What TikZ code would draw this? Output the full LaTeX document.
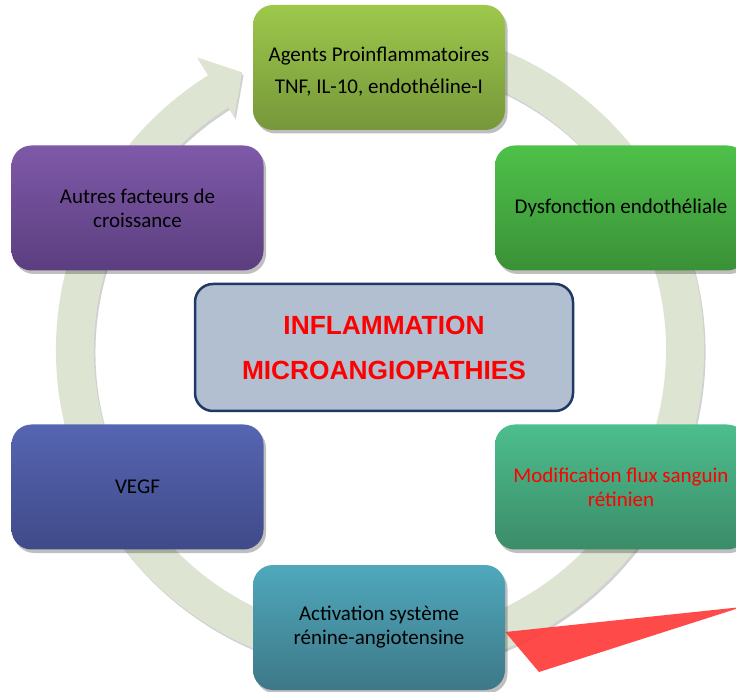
\documentclass[tikz,border=0pt]{standalone}
\usepackage{fontspec}
\setmainfont{Carlito}
\newfontfamily\arialfont{Liberation Sans}
\usetikzlibrary{shadows}
\definecolor{ringc}{HTML}{DDE5D2}
\definecolor{topA}{HTML}{9DC84B}\definecolor{topB}{HTML}{76973A}
\definecolor{dysA}{HTML}{4EC149}\definecolor{dysB}{HTML}{3A9137}
\definecolor{autA}{HTML}{7E59A8}\definecolor{autB}{HTML}{5B3E7F}
\definecolor{modA}{HTML}{4DBE8E}\definecolor{modB}{HTML}{3B8C68}
\definecolor{vegA}{HTML}{5665B2}\definecolor{vegB}{HTML}{3F4A88}
\definecolor{actA}{HTML}{4FA8BC}\definecolor{actB}{HTML}{3D7888}
\definecolor{centerfill}{HTML}{B1BFD1}
\definecolor{centerdraw}{HTML}{1F3864}
\definecolor{redtri}{HTML}{FF3B3B}
\begin{document}
\begin{tikzpicture}[x=1pt,y=1pt,
  softshadow/.style={drop shadow={shadow xshift=2.5pt, shadow yshift=-3.5pt, opacity=0.25, fill=black}},
  box/.style={rounded corners=20pt, minimum width=252pt, minimum height=125pt,
    align=center, font=\fontsize{21}{24}\selectfont, inner sep=4pt, text=black, softshadow},
  centerbox/.style={rounded corners=18pt, minimum width=378pt, minimum height=127pt,
    fill=centerfill, draw=centerdraw, line width=2.5pt, align=center, text=red,
    font=\arialfont\bfseries\fontsize{26.3}{45}\selectfont}
]
\clip (0,0) rectangle (736,691);
\fill[white] (0,0) rectangle (736,691);

% circular arrow ring
\begin{scope}[shift={(380,341)}]
\path[fill=ringc, drop shadow={shadow xshift=1.5pt, shadow yshift=-2.5pt, opacity=0.18, fill=black}]
  (75:324pt) arc[start angle=75, end angle=-238, radius=324pt]
  -- (-238:345pt) -- (-243.6:310pt) -- (-238:275pt)
  -- (-238:286pt) arc[start angle=-238, end angle=75, radius=286pt] -- cycle;
\end{scope}

% boxes
\node[box, top color=topA, bottom color=topB] (agents) at (379,623.5)
  {\raisebox{-5pt}[\height][\depth]{\begin{tabular}{@{}c@{}}Agents Proinflammatoires\\[8pt]TNF, IL-10, endothéline-I\end{tabular}}};
\node[box, top color=dysA, bottom color=dysB] (dysf) at (621,483)
  {Dysfonction endothéliale};
\node[box, top color=autA, bottom color=autB] (autres) at (137.5,483)
  {Autres facteurs de\\croissance};
\node[box, top color=modA, bottom color=modB, text=red] (modif) at (621,204)
  {Modification flux sanguin\\rétinien};
\node[box, top color=vegA, bottom color=vegB] (vegf) at (137.5,204)
  {VEGF};
\node[box, top color=actA, bottom color=actB] (activ) at (379,63.5)
  {Activation système\\rénine-angiotensine};

\node[centerbox] (center) at (384,343.5)
  {INFLAMMATION\\MICROANGIOPATHIES};

% red pointer
\coordinate (tipR) at (742,84);
\coordinate (triB) at (539,19);
\fill[redtri, opacity=0.92] (activ.east |- 0,59) -- (tipR) -- (triB) -- cycle;
\end{tikzpicture}
\end{document}
